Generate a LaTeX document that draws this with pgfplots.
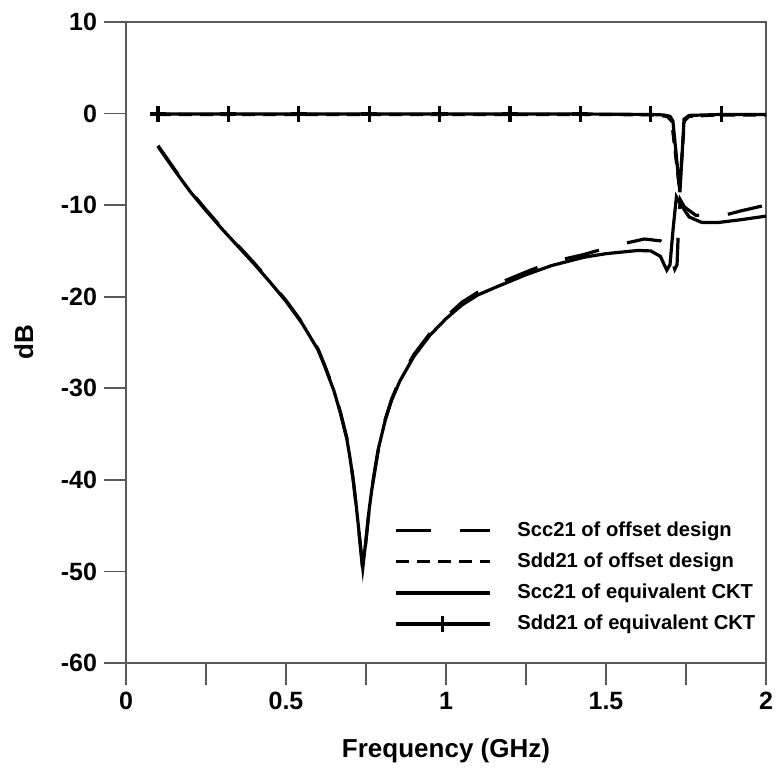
\documentclass[border=0pt]{standalone}
\usepackage{pgfplots}
\pgfplotsset{compat=1.18}
\usepackage{fontspec}
\setmainfont{Liberation Sans}

\begin{document}
\begin{tikzpicture}
\begin{axis}[
  scale only axis, width=320pt, height=320.5pt,
  xmin=0, xmax=2, ymin=-60, ymax=10,
  xtick={0,0.25,0.5,0.75,1,1.25,1.5,1.75,2},
  xticklabels={0,,0.5,,1,,1.5,,2},
  ytick={-60,-50,-40,-30,-20,-10,0,10},
  yticklabels={-60,-50,-40,-30,-20,-10,0,10},
  tick align=outside, tick pos=left,
  major tick length=11pt,
  tick style={black!65, line width=0.8pt},
  axis line style={black!65, line width=0.8pt},
  ticklabel style={font=\fontsize{12.5}{15}\selectfont\bfseries},
  xlabel={Frequency (GHz)}, ylabel={dB},
  label style={font=\fontsize{13}{15}\selectfont\bfseries},
  xlabel style={at={(axis description cs:0.5,-0.1482)}, anchor=base},
  ylabel style={at={(axis description cs:-0.1453,0.5)}, anchor=base},
  legend cell align=left,
  legend style={draw=none, fill=none, at={(axis description cs:0.409,0.233)}, anchor=north west,
    font=\fontsize{10.1}{12}\selectfont\bfseries, row sep=2.7pt, column sep=11pt},
  legend image code/.code={\draw[#1,mark indices={2}] plot coordinates {(0pt,0pt) (23.5pt,0pt) (47pt,0pt)};},
]
% Scc21 of offset design (long dash)
\addplot[black, line width=1.6pt, dash pattern=on 17.5pt off 14.5pt] coordinates {
(0.10,-3.5) (0.15,-6.0) (0.20,-8.4) (0.25,-10.5) (0.30,-12.5) (0.35,-14.4) (0.40,-16.3)
(0.45,-18.3) (0.50,-20.4) (0.55,-22.8) (0.60,-25.7) (0.62,-27.4) (0.635,-28.8) (0.65,-30.2)
(0.67,-32.6) (0.69,-35.4) (0.70,-37.5) (0.71,-40.0) (0.72,-43.0) (0.73,-46.4) (0.74,-50.0)
(0.75,-46.6) (0.76,-43.2) (0.768,-41.0) (0.78,-38.4) (0.79,-36.3) (0.81,-33.4) (0.83,-31.2)
(0.856,-29.0) (0.90,-26.3) (0.95,-24.0) (1.00,-22.2) (1.05,-20.6) (1.10,-19.5) (1.16,-18.6)
(1.25,-17.3) (1.33,-16.2) (1.43,-15.4) (1.53,-14.4) (1.62,-13.7) (1.67,-13.9) (1.69,-14.4)
(1.70,-15.2) (1.715,-17.0) (1.722,-16.5) (1.727,-12.0) (1.732,-9.4) (1.745,-10.2) (1.78,-11.1)
(1.83,-11.2) (1.87,-11.1) (1.925,-10.6) (2.00,-10.0)};
\addlegendentry{Scc21 of offset design}
% Sdd21 of offset design (short dash)
\addplot[black, line width=1.6pt, dash pattern=on 6.5pt off 4pt] coordinates {
(0.10,-0.1) (0.50,-0.1) (1.00,-0.1) (1.50,-0.1) (1.65,-0.15) (1.69,-0.3) (1.705,-0.8)
(1.73,-8.3) (1.745,-0.8) (1.76,-0.3) (1.85,-0.15) (2.00,-0.15)};
\addlegendentry{Sdd21 of offset design}
% Scc21 of equivalent CKT (solid)
\addplot[black, line width=1.6pt] coordinates {
(0.10,-3.6) (0.15,-6.1) (0.20,-8.5) (0.25,-10.6) (0.30,-12.6) (0.35,-14.5) (0.40,-16.4)
(0.45,-18.4) (0.50,-20.5) (0.55,-22.9) (0.60,-25.8) (0.62,-27.5) (0.635,-28.9) (0.65,-30.3)
(0.67,-32.7) (0.69,-35.5) (0.70,-37.6) (0.71,-40.0) (0.72,-43.0) (0.73,-46.3) (0.74,-49.6)
(0.75,-46.5) (0.76,-43.2) (0.768,-41.1) (0.78,-38.5) (0.79,-36.4) (0.81,-33.5) (0.83,-31.3)
(0.856,-29.2) (0.90,-26.5) (0.95,-24.2) (1.00,-22.4) (1.05,-20.9) (1.10,-19.8) (1.16,-18.9)
(1.25,-17.6) (1.33,-16.6) (1.43,-15.7) (1.50,-15.3) (1.60,-14.95) (1.64,-15.0) (1.67,-15.6)
(1.69,-17.1) (1.70,-16.5) (1.71,-12.5) (1.72,-9.1) (1.735,-10.0) (1.76,-11.3) (1.80,-11.9)
(1.85,-11.9) (1.92,-11.6) (2.00,-11.2)};
\addlegendentry{Scc21 of equivalent CKT}
% Sdd21 of equivalent CKT (solid with + marks)
\addplot[black, line width=1.6pt, mark=+, mark size=4pt, mark options={solid, line width=1.6pt},
  mark indices={1,2,3,4,5,6,7,8,15}] coordinates {
(0.10,-0.05) (0.32,-0.05) (0.54,-0.05) (0.76,-0.05) (0.98,-0.05) (1.20,-0.05) (1.42,-0.05)
(1.64,-0.1) (1.68,-0.15) (1.70,-0.3) (1.709,-0.8) (1.731,-8.6) (1.744,-0.6) (1.76,-0.2)
(1.86,-0.1) (2.00,-0.1)};
\addlegendentry{Sdd21 of equivalent CKT}
\end{axis}
\pgfresetboundingbox
\path ([shift={(-63pt,-53pt)}]current axis.south west) rectangle ([shift={(5pt,11pt)}]current axis.north east);
\end{tikzpicture}
\end{document}
